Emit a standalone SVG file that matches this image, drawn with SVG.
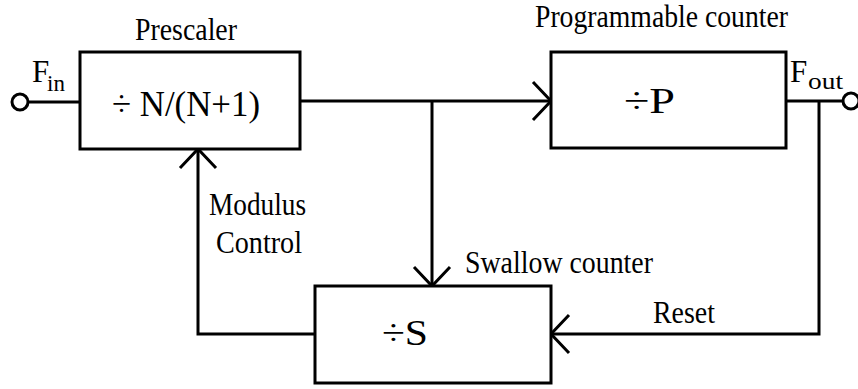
<svg xmlns="http://www.w3.org/2000/svg" width="858" height="389" viewBox="0 0 858 389" font-family="'Liberation Serif', 'DejaVu Serif', serif">
  <style>
    .box { fill: #ffffff; stroke: #000000; stroke-width: 3; }
    .wire { fill: none; stroke: #000000; stroke-width: 3; }
    .head { fill: none; stroke: #000000; stroke-width: 3; stroke-linecap: butt; }
    .term { fill: #ffffff; stroke: #000000; stroke-width: 3; }
    text { font-family: 'Liberation Serif', 'DejaVu Serif', serif; fill: #000000; }
    .lbl { font-size: 31px; }
    .big { font-size: 36px; }
    .sub { font-size: 23px; }
  </style>
  <rect width="858" height="389" fill="#ffffff"/>

  <g id="connectors">
    <line class="wire" x1="28" y1="102" x2="80" y2="102"/>
    <line class="wire" x1="300" y1="101" x2="551" y2="101"/>
    <polyline class="head" points="533,82 551,101 533,120"/>
    <line class="wire" x1="432" y1="101" x2="432" y2="286"/>
    <polyline class="head" points="414,267 432,286 450,267"/>
    <line class="wire" x1="786" y1="101" x2="843" y2="101"/>
    <polyline class="wire" points="819,101 819,334 551,334"/>
    <polyline class="head" points="569,315 551,334 569,353"/>
    <polyline class="wire" points="315,334 198,334 198,149"/>
    <polyline class="head" points="180,168 198,149 216,168"/>
  </g>

  <g id="fin-terminal">
    <circle class="term" cx="20" cy="102" r="8"/>
    <text class="lbl" x="32" y="82">F</text>
    <text class="sub" x="47" y="91">in</text>
  </g>

  <g id="fout-terminal">
    <circle class="term" cx="851" cy="101" r="8"/>
    <text class="lbl" x="790" y="82">F</text>
    <text class="sub" x="808" y="89" textLength="35" lengthAdjust="spacingAndGlyphs">out</text>
  </g>

  <g id="prescaler">
    <rect class="box" x="80" y="52" width="220" height="97"/>
    <text class="lbl" x="135" y="40" textLength="102" lengthAdjust="spacingAndGlyphs">Prescaler</text>
    <text class="big" x="112" y="116" textLength="148" lengthAdjust="spacingAndGlyphs">÷ N/(N+1)</text>
  </g>

  <g id="programmable-counter">
    <rect class="box" x="551" y="52" width="235" height="96"/>
    <text class="lbl" x="535" y="27" textLength="253" lengthAdjust="spacingAndGlyphs">Programmable counter</text>
    <text class="big" x="624" y="113" textLength="51" lengthAdjust="spacingAndGlyphs">÷P</text>
  </g>

  <g id="swallow-counter">
    <rect class="box" x="315" y="286" width="236" height="97"/>
    <text class="lbl" x="465" y="273" textLength="188" lengthAdjust="spacingAndGlyphs">Swallow counter</text>
    <text class="big" x="382" y="345" textLength="46" lengthAdjust="spacingAndGlyphs">÷S</text>
  </g>

  <g id="labels">
    <text class="lbl" x="209" y="215" textLength="97" lengthAdjust="spacingAndGlyphs">Modulus</text>
    <text class="lbl" x="216" y="253" textLength="86" lengthAdjust="spacingAndGlyphs">Control</text>
    <text class="lbl" x="653" y="323" textLength="62" lengthAdjust="spacingAndGlyphs">Reset</text>
  </g>
</svg>
